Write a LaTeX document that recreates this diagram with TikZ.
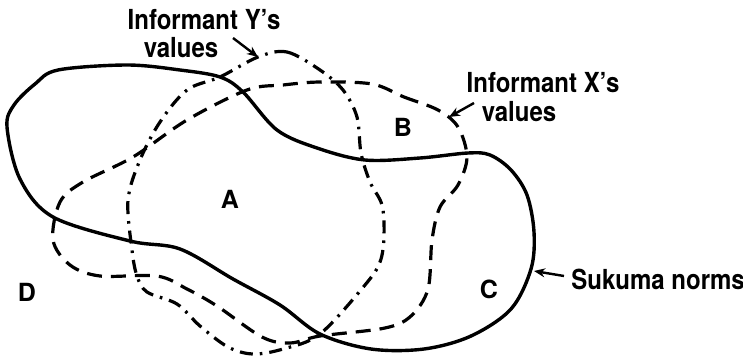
\documentclass[tikz,border=0pt]{standalone}
\usepackage{fontspec}
\setmainfont{TeX Gyre Heros}
\usetikzlibrary{arrows.meta}
\newcommand\tall[1]{\scalebox{1}[1.15]{#1}}
\tikzset{
  x=0.5pt,y=-0.5pt,
  norms/.style={line width=1.7pt,line join=round},
  xvals/.style={line width=1.6pt,dash pattern=on 7.5pt off 4.5pt},
  yvals/.style={line width=1.6pt,dash pattern=on 6.5pt off 3.5pt on 1.3pt off 3.5pt},
  lbl/.style={font=\fontsize{12}{12.5}\selectfont\bfseries,align=center,inner sep=0pt},
  region/.style={font=\fontsize{12.5}{12}\selectfont\bfseries,inner sep=0pt},
  pointer/.style={-{Stealth[length=5.5pt,width=4.5pt]},line width=1.2pt},
}
\begin{document}
\begin{tikzpicture}
  \useasboundingbox (0,0) rectangle (743,358);
  % Sukuma norms
  \draw[norms] plot[smooth cycle,tension=0.55] coordinates {
    (58,70) (127,65) (180,70) (220,77) (243,92) (277,130) (317,148) (365,160)
    (420,158) (468,153) (490,155) (511,170) (527,195) (534,232) (531,269)
    (511,309) (471,336) (424,349) (371,349) (320,334) (280,305) (233,279)
    (180,249) (130,241) (53,217) (20,179) (7,127) (14,105) (35,84)};
  % informant X
  \draw[xvals] plot[smooth cycle,tension=0.55] coordinates {
    (372,84) (404,97) (438,110) (458,127) (467,157) (458,185) (440,207)
    (432,240) (428,289) (411,316) (385,328) (320,336) (290,343) (262,337)
    (217,306) (187,289) (157,276) (100,276) (70,265) (53,240) (60,202)
    (83,182) (133,157) (187,120) (247,90) (283,85) (320,82)};
  % informant Y
  \draw[yvals] plot[smooth cycle,tension=0.55] coordinates {
    (258,57) (287,52) (320,70) (343,90) (357,117) (361,153) (370,182)
    (382,205) (384,236) (380,262) (365,285) (320,334) (283,349) (253,354)
    (228,347) (200,326) (177,304) (147,292) (137,276) (132,250) (128,200)
    (140,160) (160,122) (187,90) (220,77)};
  % labels
  \node[lbl] (ylab) at (204,20) {\tall{Informant Y's}};
  \node[lbl] (yval) at (181,48) {\tall{values}};
  \node[lbl] (xlab) at (543,83) {\tall{Informant X's}};
  \node[lbl] (xval) at (519,112) {\tall{values}};
  \node[lbl,anchor=west] (slab) at (571,279) {\tall{Sukuma norms}};
  \coordinate (ytail) at (233,38);
  \coordinate (ytip) at (258,57);
  \coordinate (xtail) at (474,103);
  \coordinate (xtip) at (449,117);
  \coordinate (stail) at (564,276);
  \coordinate (stip) at (534,271);
  \draw[pointer] (ytail) -- (ytip);
  \draw[pointer] (xtail) -- (xtip);
  \draw[pointer] (stail) -- (stip);
  % regions
  \node[region] (ra) at (230,199) {A};
  \node[region] (rb) at (403,127) {B};
  \node[region] (rc) at (489,289) {C};
  \node[region] (rd) at (27,292) {D};
\end{tikzpicture}
\end{document}
